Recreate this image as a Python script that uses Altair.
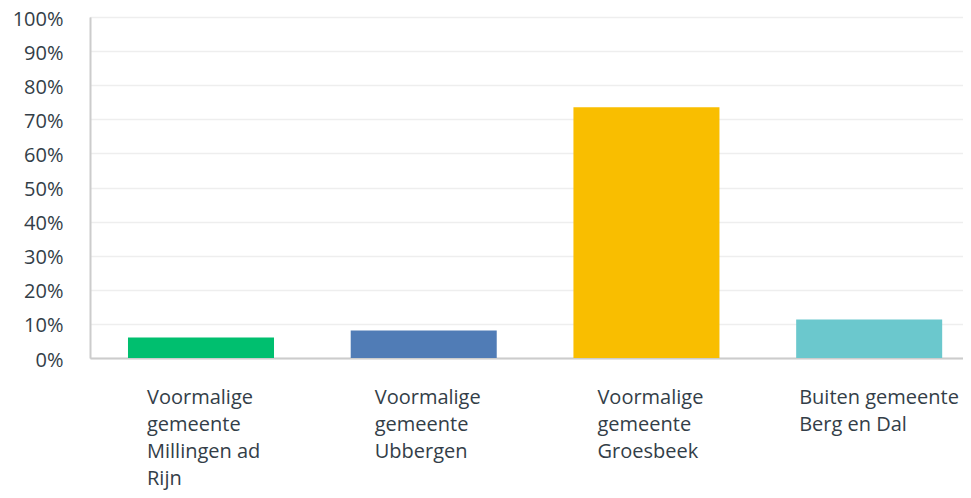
import altair as alt
import pandas as pd

categories = [
    "Voormalige\ngemeente\nMillingen ad\nRijn",
    "Voormalige\ngemeente\nUbbergen",
    "Voormalige\ngemeente\nGroesbeek",
    "Buiten gemeente\nBerg en Dal",
]
values = [6.0, 8.1, 73.5, 11.3]
colors = ["#00bf6f", "#507cb6", "#f9be00", "#6bc8cd"]
y_ticks = [0, 10, 20, 30, 40, 50, 60, 70, 80, 90, 100]

df = pd.DataFrame({"cat": categories, "val": values})

FONT = "Open Sans"
TEXT = "#333e48"

label_offset = {
    "condition": [
        {"test": "indexof(datum.value, 'Millingen') >= 0", "value": -54},
        {"test": "indexof(datum.value, 'Buiten') >= 0", "value": -70},
    ],
    "value": -49,
}

chart = (
    alt.Chart(df)
    .mark_bar()
    .encode(
        x=alt.X(
            "cat:N",
            sort=None,
            scale=alt.Scale(paddingInner=0.3444, paddingOuter=0.132, align=0.646),
            axis=alt.Axis(
                title=None,
                labelAngle=0,
                labelAlign="left",
                labelBaseline="top",
                labelPadding=29,
                labelLineHeight=27,
                labelOffset=label_offset,
                labelExpr="split(datum.label, '\\n')",
                labelFont=FONT,
                labelFontSize=20,
                labelColor=TEXT,
                ticks=False,
                domain=True,
                domainColor="#cccccc",
                domainWidth=2,
                grid=False,
                labelLimit=300,
            ),
        ),
        y=alt.Y(
            "val:Q",
            scale=alt.Scale(domain=[0, 100], nice=False),
            axis=alt.Axis(
                title=None,
                values=y_ticks,
                labelExpr="datum.value + '%'",
                labelFont=FONT,
                labelFontSize=20,
                labelColor=TEXT,
                labelPadding=27,
                labelOffset=2,
                ticks=False,
                domain=True,
                domainColor="#cccccc",
                domainWidth=2,
                grid=True,
                gridColor="#eeeeee",
                gridWidth=1.5,
            ),
        ),
        color=alt.Color(
            "cat:N",
            sort=None,
            scale=alt.Scale(domain=categories, range=colors),
            legend=None,
        ),
    )
    .properties(
        width=873,
        height=341,
        autosize=alt.AutoSizeParams(type="none"),
        padding={"left": 82, "top": 9, "right": 0, "bottom": 132},
    )
    .configure_view(stroke=None)
    .configure(background="white")
)

chart.save("out.html", embed_options={"renderer": "svg", "actions": False})
